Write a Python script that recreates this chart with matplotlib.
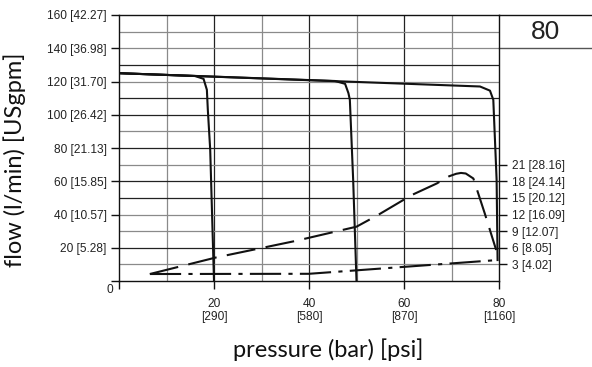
import matplotlib
matplotlib.use("Agg")
import matplotlib.pyplot as plt

# flow axis (l/min) with US gpm in brackets
flow_ticks = [20, 40, 60, 80, 100, 120, 140, 160]
gpm_labels = ["5.28", "10.57", "15.85", "21.13", "26.42", "31.70", "36.98", "42.27"]
# pressure axis (bar) with psi
bar_ticks = [0, 20, 40, 60, 80]
psi_labels = ["", "290", "580", "870", "1160"]
# power axis (kW) with hp
kw_ticks = [3, 6, 9, 12, 15, 18, 21]
hp_labels = ["4.02", "8.05", "12.07", "16.09", "20.12", "24.14", "28.16"]

# pressure compensator curves, flow l/min vs pressure bar
comp1_p = [0, 16, 17.8, 18.5, 18.7, 19.2, 20]
comp1_q = [125, 123.3, 121.6, 115, 103, 79, 0]
comp2_p = [0, 45.5, 47.6, 48.3, 48.6, 49.3, 50]
comp2_q = [125, 120.3, 118.6, 113, 109, 60.7, 0]
comp3_p = [0, 76, 78.1, 78.8, 79.5, 79.7]
comp3_q = [125, 117, 114.5, 109, 60.7, 12.6]

# absorbed power, kW vs pressure bar
power_p = [6.5, 20.5, 37, 50, 54.5, 61.6, 66.9, 69.5, 71, 72, 73, 74.6, 77, 79.4]
power_kw = [1.26, 4.26, 7.2, 9.8, 11.9, 15.5, 17.6, 18.9, 19.35, 19.5, 19.4, 18.5, 12.2, 5.6]
# standby power
standby_p = [6.5, 40, 80]
standby_kw = [1.26, 1.3, 3.8]

model = "80"

fig = plt.figure(figsize=(5.92, 3.67), dpi=100)
ax = fig.add_axes([119 / 592, 1 - 281 / 367, 380 / 592, 266 / 367])
ax.set_xlim(0, 80)
ax.set_ylim(0, 160)

# grid: dark on the 20s, grey in between
for x in range(10, 80, 10):
    ax.axvline(x, color="#222222" if x % 20 == 0 else "#8a8a8a", lw=0.9, zorder=1)
dark_rows = [20, 50, 60, 80, 100, 110, 130]
for y in range(10, 160, 10):
    ax.axhline(y, color="#222222" if y in dark_rows else "#8a8a8a", lw=0.9, zorder=1)

for s in ax.spines.values():
    s.set_color("#111111")
    s.set_linewidth(1.0)

tick_font = dict(family="Liberation Sans", size=8.6)
ax.set_yticks([0] + flow_ticks)
ax.set_yticklabels([""] + [f"{q} [{g}]" for q, g in zip(flow_ticks, gpm_labels)], **tick_font)
ax.set_xticks(bar_ticks)
ax.set_xticklabels(["" if not p else f"{b}\n[{p}]" for b, p in zip(bar_ticks, psi_labels)],
                   linespacing=1.15, **tick_font)
ax.tick_params(direction="out", length=6, width=1.0, colors="#111111", labelcolor="#222222", pad=3)
ax.tick_params(axis="x", pad=6)
ax.text(-1.3, -5.4, "0", ha="right", va="center", color="#222222", clip_on=False, **tick_font)

ax2 = ax.twinx()
ax2.set_ylim(0, 48)
ax2.set_yticks(kw_ticks)
ax2.set_yticklabels([f"{k} [{h}]" for k, h in zip(kw_ticks, hp_labels)], **tick_font)
ax2.tick_params(direction="out", length=6, width=1.0, colors="#111111", labelcolor="#222222", pad=3)
for s in ax2.spines.values():
    s.set_visible(False)

for p, q in [(comp1_p, comp1_q), (comp2_p, comp2_q), (comp3_p, comp3_q)]:
    ax.plot(p, q, color="#111111", lw=1.5, zorder=3)
ax2.plot(power_p, power_kw, color="#111111", lw=1.5, dashes=(14, 5), zorder=3)
ax2.plot(standby_p, standby_kw, color="#111111", lw=1.5, dashes=(15, 3.5, 2, 3.5), zorder=3)

# model box at the top right
edge = (592 - 119) / 380 * 80
ax.plot([80, edge], [160, 160], color="#111111", lw=1.0, clip_on=False)
ax.plot([80, edge], [140, 140], color="#555555", lw=1.0, clip_on=False)
ax.text((80 + edge) / 2, 150, model, ha="center", va="center", family="Liberation Sans",
        size=19, color="#222222", clip_on=False)

label_font = dict(family="Lato", size=17, color="#111111")
fig.text(328 / 592, 1 - 350 / 367, "pressure (bar) [psi]", ha="center", va="center", **label_font)
fig.text(15 / 592, 1 - 160 / 367, "flow (l/min) [USgpm]", ha="center", va="center",
         rotation=90, **label_font)

fig.savefig("out.png", dpi=100, facecolor="white")
